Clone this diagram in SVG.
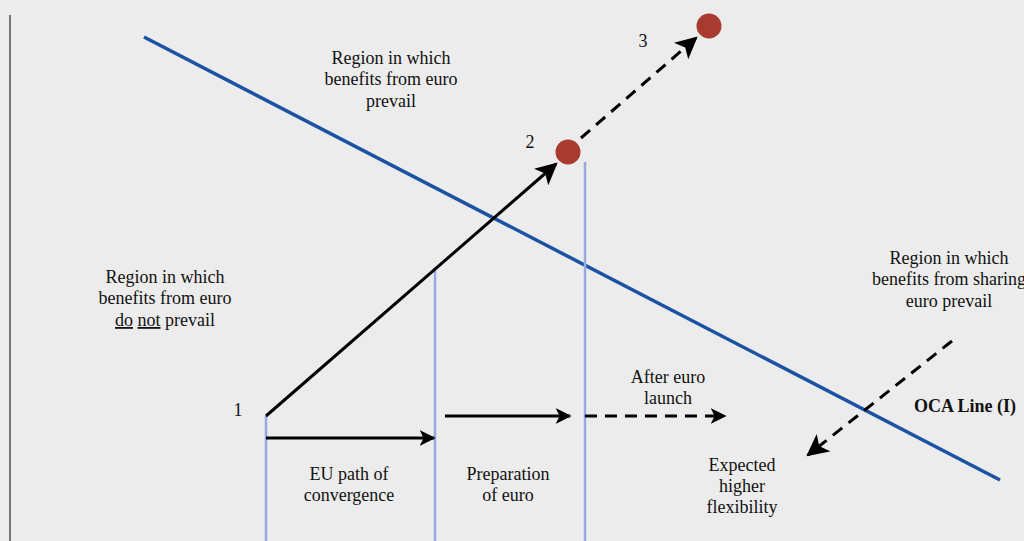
<svg xmlns="http://www.w3.org/2000/svg" width="1024" height="541" viewBox="0 0 1024 541">
<style>
text{font-family:'Liberation Serif','Times New Roman','DejaVu Serif',serif;font-size:18px;fill:#111;text-anchor:middle}
.b{font-weight:bold}
.v{stroke:#9aa8e2;stroke-width:2.5;fill:none}
.a{stroke:#000;stroke-width:3;fill:none}
.d{stroke-dasharray:12 8}
.dot{fill:#a83a2f}
</style>
<defs>
<marker id="ah" viewBox="0 0 10 10" refX="9" refY="5" markerWidth="22" markerHeight="22" markerUnits="userSpaceOnUse" orient="auto">
<path d="M0,0 L10,5 L0,10 L2.5,5 z" fill="#000"/>
</marker>
<marker id="ahs" viewBox="0 0 10 10" refX="9" refY="5" markerWidth="16" markerHeight="16" markerUnits="userSpaceOnUse" orient="auto">
<path d="M0,0 L10,5 L0,10 L2.5,5 z" fill="#000"/>
</marker>
</defs>
<rect width="1024" height="541" fill="#ececec"/>
<line x1="10" y1="15" x2="10" y2="541" stroke="#777" stroke-width="2"/>
<g id="oca-line"><line x1="144" y1="37" x2="1000" y2="480" stroke="#1b52a3" stroke-width="3.5"/></g>
<g id="phases">
<line class="v" x1="266" y1="416" x2="266" y2="541"/>
<line class="v" x1="435" y1="268" x2="435" y2="541"/>
<line class="v" x1="585" y1="162" x2="585" y2="541"/>
</g>
<g id="connectors">
<line class="a" x1="266" y1="416" x2="556" y2="164" marker-end="url(#ah)"/>
<line class="a d" x1="581" y1="138" x2="696" y2="38" marker-end="url(#ah)"/>
<line class="a" x1="266" y1="438" x2="434" y2="438" marker-end="url(#ahs)"/>
<line class="a" x1="445" y1="416" x2="570" y2="416" marker-end="url(#ahs)"/>
<line class="a d" x1="585" y1="416" x2="725" y2="416" marker-end="url(#ahs)"/>
<line class="a d" x1="952" y1="341" x2="808" y2="455" marker-end="url(#ah)"/>
</g>
<g font-family="Liberation Serif, serif">
<g id="point1"><text x="238" y="416">1</text></g>
<g id="point2"><circle class="dot" cx="568" cy="152" r="12.5"/><text x="530" y="148">2</text></g>
<g id="point3"><circle class="dot" cx="709" cy="26" r="12.5"/><text x="643" y="47">3</text></g>
<g id="region-prevail"><text x="391" y="64">Region in which</text><text x="391" y="85">benefits from euro</text><text x="391" y="107">prevail</text></g>
<g id="region-not"><text x="165" y="283">Region in which</text><text x="165" y="304">benefits from euro</text><text x="165" y="326"><tspan text-decoration="underline">do</tspan> <tspan text-decoration="underline">not</tspan> prevail</text></g>
<g id="region-sharing"><text x="949" y="264">Region in which</text><text x="949" y="285">benefits from sharing</text><text x="949" y="307">euro prevail</text></g>
<g id="oca-label"><text class="b" x="965" y="412">OCA Line (I)</text></g>
<g id="after"><text x="668" y="383">After euro</text><text x="668" y="404">launch</text></g>
<g id="expected"><text x="742" y="471">Expected</text><text x="742" y="492">higher</text><text x="742" y="513">flexibility</text></g>
<g id="eu-path"><text x="349" y="480">EU path of</text><text x="349" y="501">convergence</text></g>
<g id="prep"><text x="508" y="480">Preparation</text><text x="508" y="501">of euro</text></g>
</g>
</svg>
